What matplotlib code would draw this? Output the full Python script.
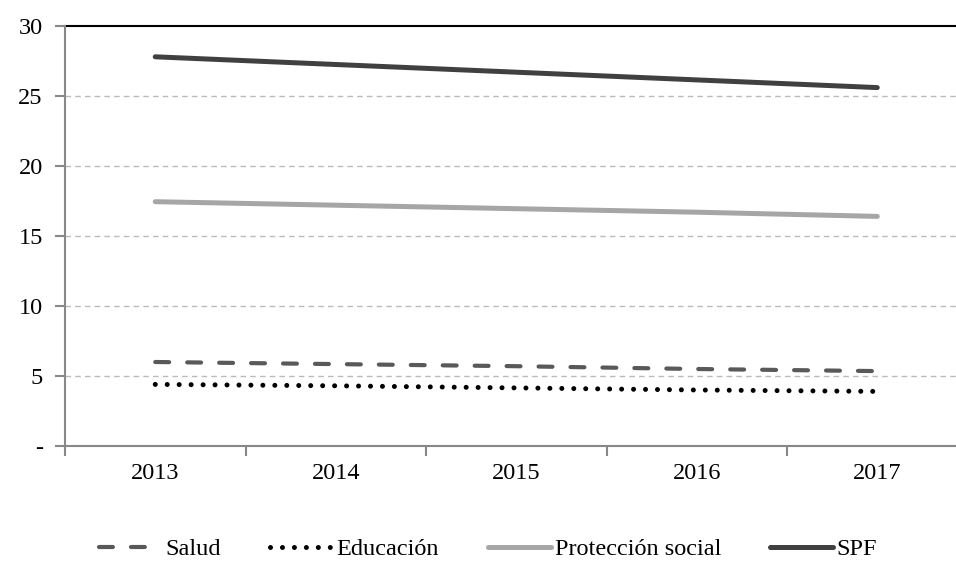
import matplotlib
matplotlib.use('Agg')
import matplotlib.pyplot as plt

plt.rcParams['font.family'] = ['Liberation Serif', 'DejaVu Serif']
plt.rcParams['lines.scale_dashes'] = False

years = ['2013', '2014', '2015', '2016', '2017']
salud = [6.0, 5.85, 5.7, 5.5, 5.35]
educacion = [4.4, 4.3, 4.15, 4.0, 3.9]
proteccion = [17.45, 17.2, 16.95, 16.7, 16.4]
spf = [27.8, 27.25, 26.7, 26.15, 25.6]
yticks = [0, 5, 10, 15, 20, 25, 30]
ytick_labels = ['-', '5', '10', '15', '20', '25', '30']

fig = plt.figure(figsize=(9.56, 5.63), dpi=100)
ax = fig.add_axes([65 / 956, 1 - 446 / 563, 902.5 / 956, 420 / 563])

x = range(len(years))
ax.plot(x, salud, color='#595959', lw=3, linestyle=(0, (10, 13)),
        dash_capstyle='round', label='Salud')
ax.plot(x, educacion, color='black', lw=3.6, linestyle=(0, (0.01, 8.6)),
        dash_capstyle='round', label='Educación')
ax.plot(x, proteccion, color='#a6a6a6', lw=3.6, solid_capstyle='round',
        label='Protección social')
ax.plot(x, spf, color='#404040', lw=3.6, solid_capstyle='round', label='SPF')

ax.set_xlim(-0.5, 4.5)
ax.set_ylim(0, 30)
ax.set_yticks(yticks)
ax.set_yticklabels(ytick_labels)
ax.set_xticks(list(x))
ax.set_xticklabels(years)
ax.set_xticks([i - 0.5 for i in range(6)], minor=True)
ax.tick_params(axis='x', which='major', length=0, pad=12, labelsize=17.5)
ax.tick_params(axis='x', which='minor', length=7, width=1.5, color='#888888', direction='out')
ax.tick_params(axis='y', length=7, width=1.5, color='#888888', pad=9, labelsize=17.5)

# dashed gridlines, solid black line on top
for y in yticks[1:-1]:
    ax.axhline(y, color='#bbbbbb', lw=1, linestyle=(0, (4, 3)), zorder=0)
ax.axhline(30, color='black', lw=1.5, zorder=0, clip_on=False)

ax.spines['right'].set_visible(False)
ax.spines['top'].set_visible(False)
for s in ['left', 'bottom']:
    ax.spines[s].set_color('#888888')
    ax.spines[s].set_linewidth(1.5)

fig.legend(loc='center', bbox_to_anchor=(488 / 956, 1 - 549 / 563), ncol=4, frameon=False,
           fontsize=17.5, handlelength=2.6, handletextpad=0.15, columnspacing=2.0)

fig.savefig('out.png', dpi=100)
